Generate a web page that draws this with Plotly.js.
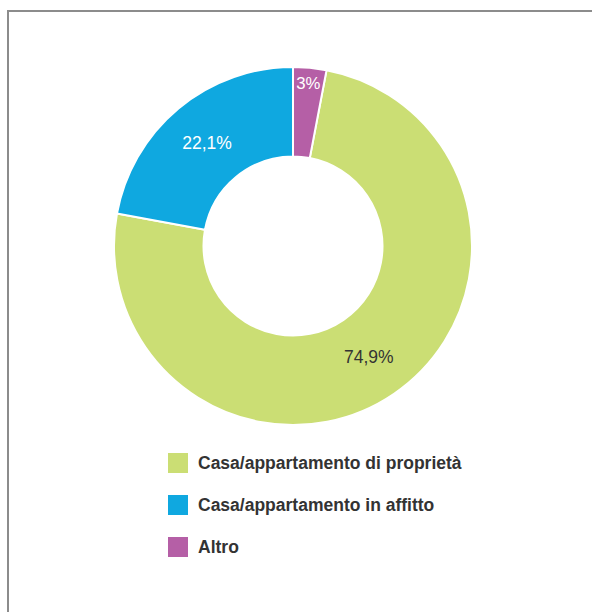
<!DOCTYPE html>
<html>
<head>
<meta charset="utf-8">
<script src="https://cdn.plot.ly/plotly-3.0.1.min.js"></script>
<style>
  html, body { margin: 0; padding: 0; background: #ffffff; }
  #chart { width: 592px; height: 612px; }
</style>
</head>
<body>
<div id="chart"></div>
<script>
const labels = ['Casa/appartamento di proprietà', 'Casa/appartamento in affitto', 'Altro'];
const values = [74.9, 22.1, 3];
const colors = ['#cbde74', '#0fa8e0', '#b55fa6'];
const textColors = ['#333333', '#ffffff', '#ffffff'];

const fontFamily = 'Liberation Sans, Arial, sans-serif';
const sliceText = values.map(v => String(v).replace('.', ',') + '%');

// start the first slice where the "Altro" share ends, going clockwise
const total = values.reduce((a, b) => a + b, 0);
const rotation = values[2] / total * 360;

const legendShapes = labels.map((label, i) => ({
  type: 'rect', xref: 'paper', yref: 'paper',
  x0: 168 / 592, x1: 188 / 592,
  y0: 1 - (473 + i * 42) / 612, y1: 1 - (453 + i * 42) / 612,
  fillcolor: colors[i], line: { width: 0 }
}));

const legendLabels = labels.map((label, i) => ({
  text: '<b>' + label + '</b>', xref: 'paper', yref: 'paper',
  x: 196 / 592, y: 1 - (463 + i * 42) / 612,
  xanchor: 'left', yanchor: 'middle', showarrow: false,
  font: { family: fontFamily, size: 17.5, color: '#333333' }
}));

const frame = {
  type: 'rect', xref: 'paper', yref: 'paper',
  x0: 8 / 592, x1: 1.2, y0: -0.2, y1: 1 - 11 / 612,
  line: { color: '#8c8c8c', width: 2 }, fillcolor: 'rgba(0,0,0,0)'
};

Plotly.newPlot('chart', [{
  type: 'pie',
  labels: labels,
  values: values,
  text: sliceText,
  textinfo: 'text',
  textposition: 'inside',
  insidetextorientation: 'horizontal',
  hole: 0.5,
  sort: false,
  direction: 'clockwise',
  rotation: rotation,
  domain: { x: [114 / 592, 472 / 592], y: [1 - 425 / 612, 1 - 67 / 612] },
  marker: { colors: colors, line: { color: '#ffffff', width: 2 } },
  insidetextfont: { family: fontFamily, size: 17.5, color: textColors },
  showlegend: false
}], {
  width: 592,
  height: 612,
  paper_bgcolor: '#ffffff',
  plot_bgcolor: '#ffffff',
  font: { family: fontFamily, color: '#333333' },
  margin: { l: 0, r: 0, t: 0, b: 0 },
  showlegend: false,
  shapes: [frame, ...legendShapes],
  annotations: legendLabels
}, { displayModeBar: false, staticPlot: true });
</script>
</body>
</html>
